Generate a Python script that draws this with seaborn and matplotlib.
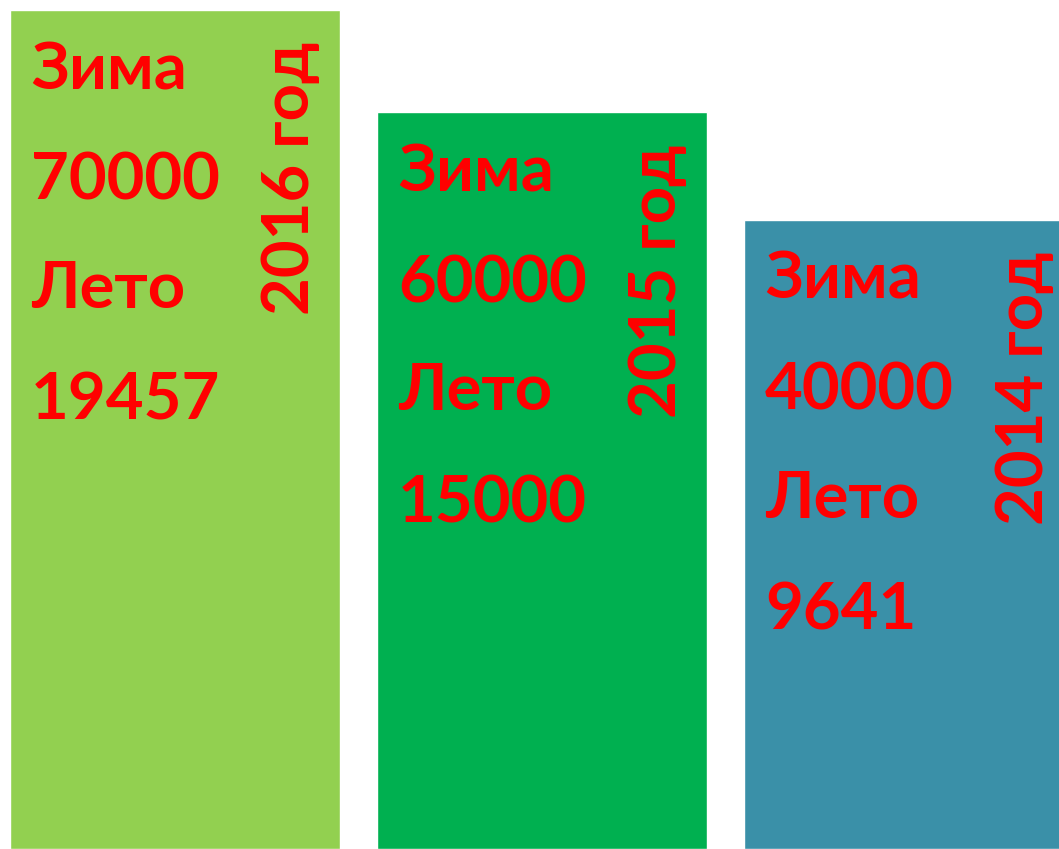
import matplotlib
matplotlib.use("Agg")
import matplotlib.pyplot as plt
import seaborn as sns
import pandas as pd

years = ["2016 год", "2015 год", "2014 год"]
winter = [70000, 60000, 40000]
summer = [19457, 15000, 9641]
bar_heights = [100, 87.8, 75.0]
colors = ["#92D050", "#00B050", "#3A90A8"]

sns.set_theme(style="white")
plt.rcParams['font.family'] = ['Lato', 'DejaVu Sans']

df = pd.DataFrame({"year": years, "h": bar_heights})

fig = plt.figure(figsize=(10.59, 8.49), dpi=100)
ax = fig.add_axes([0, 0, 1, 1])
sns.barplot(data=df, x="year", y="h", hue="year", palette=colors, width=0.9,
            saturation=1, legend=False, ax=ax)

spacing = 367.0
ax.set_xlim(-0.45 - 10 / spacing, -0.45 + (1059 - 10) / spacing)
ax.set_ylim(0, 100 * 849 / 839)
ax.axis("off")

fs = 47
for i, (yr, w, s, h) in enumerate(zip(years, winter, summer, bar_heights)):
    left = i - 0.45
    lines = ["Зима", f"{w}", "Лето", f"{s}"]
    offs = [79, 190, 298, 410]
    for txt, off in zip(lines, offs):
        ax.annotate(txt, xy=(left, h), xytext=(21, -off), textcoords="offset pixels",
                    ha="left", va="baseline", fontsize=fs, fontweight="bold", color="red")
    ax.annotate(yr, xy=(left, h), xytext=(310, -32), textcoords="offset pixels",
                ha="right", va="top", rotation=90, fontsize=fs, fontweight="bold", color="red")

fig.savefig("out.png", dpi=100)
